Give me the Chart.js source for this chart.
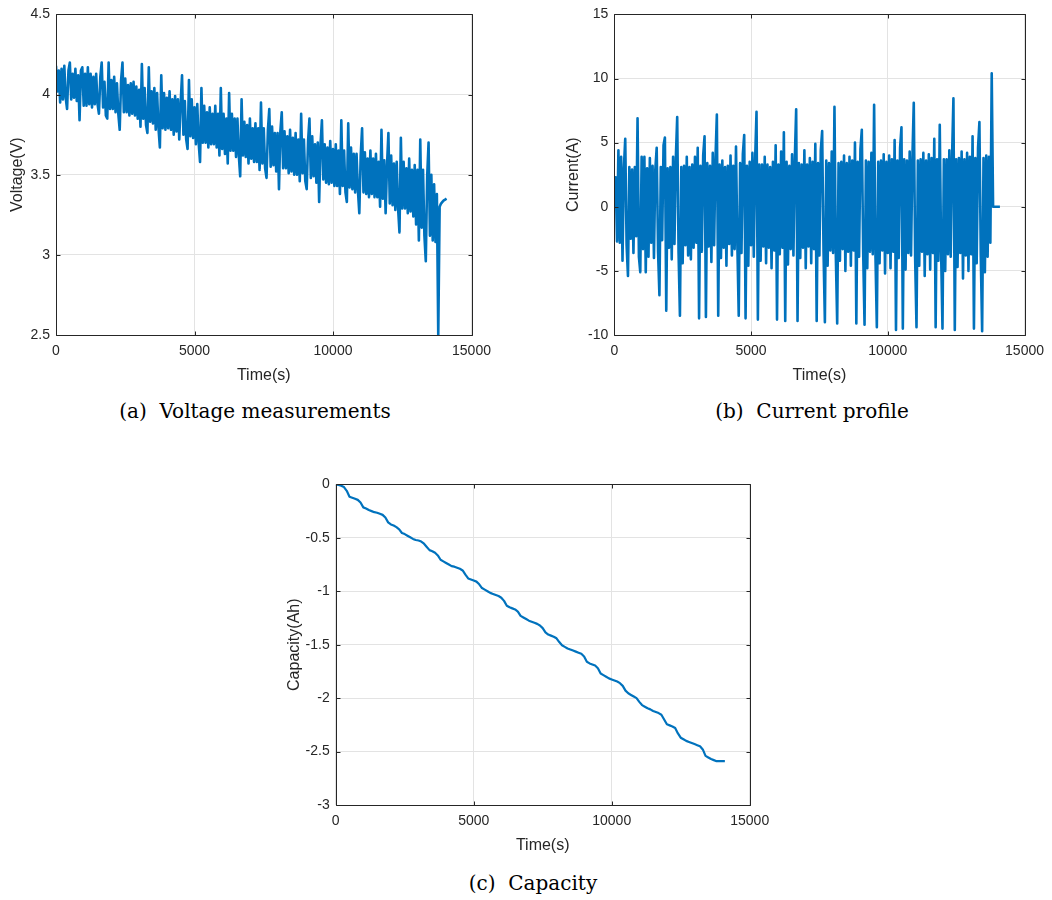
<!DOCTYPE html>
<html>
<head>
<meta charset="utf-8">
<script src="https://cdn.jsdelivr.net/npm/chart.js@4.4.1/dist/chart.umd.min.js"></script>
<style>
html,body{margin:0;padding:0;background:#fff;}
body{width:1052px;height:900px;position:relative;overflow:hidden;}
canvas{position:absolute;}
.cap{position:absolute;font-family:"DejaVu Serif",serif;font-size:20px;color:#000;white-space:pre;transform:translate(-50%,-50%);line-height:1;}
</style>
</head>
<body>
<canvas id="cv" width="500" height="395" style="left:0px;top:0px;width:500px;height:395px"></canvas>
<canvas id="ci" width="492" height="395" style="left:560px;top:0px;width:492px;height:395px"></canvas>
<canvas id="cc" width="500" height="395" style="left:280px;top:470px;width:500px;height:395px"></canvas>
<div class="cap" style="left:255px;top:411px">(a)  Voltage measurements</div>
<div class="cap" style="left:812px;top:411px">(b)  Current profile</div>
<div class="cap" style="left:533px;top:883px">(c)  Capacity</div>
<script>
// ---------------- DATA ----------------
// Voltage and current sampled every 50 s (t = 0 ... 14100 s)
const sampleIntervalS = 50;
const voltageValues = [
  4.18, 4.02, 4.15, 3.95, 4.16, 3.97, 4.18, 3.98, 3.91, 4.15,
  4.20, 3.97, 4.13, 3.98, 4.16, 3.96, 4.12, 3.84, 4.15, 4.17,
  3.93, 4.13, 3.93, 4.17, 3.94, 4.13, 3.92, 4.11, 3.94, 4.13,
  3.94, 3.88, 4.11, 4.20, 3.92, 4.08, 3.87, 3.85, 4.20, 3.91,
  4.09, 3.91, 4.11, 3.89, 4.07, 3.88, 3.78, 4.09, 4.20, 3.89,
  4.10, 3.89, 4.06, 3.87, 4.07, 3.88, 4.08, 3.87, 4.05, 3.85,
  4.03, 3.80, 4.19, 3.85, 4.04, 3.81, 3.76, 4.17, 3.83, 4.02,
  3.82, 4.04, 3.78, 4.01, 3.79, 3.67, 4.12, 3.79, 4.01, 3.78,
  3.98, 3.79, 4.02, 3.78, 3.97, 3.75, 3.99, 3.77, 3.97, 3.72,
  3.95, 4.12, 3.75, 3.96, 3.72, 3.66, 4.09, 3.74, 3.97, 3.73,
  3.92, 3.69, 3.94, 3.70, 3.58, 4.04, 3.70, 3.93, 3.70, 3.89,
  3.67, 3.92, 3.69, 3.88, 3.69, 3.93, 3.67, 3.88, 3.62, 4.04,
  3.66, 3.88, 3.63, 3.85, 3.57, 4.01, 3.65, 3.88, 3.65, 3.85,
  3.61, 3.85, 3.62, 3.49, 3.97, 3.62, 3.83, 3.61, 3.81, 3.57,
  3.85, 3.60, 3.79, 3.58, 3.82, 3.58, 3.79, 3.53, 3.95, 3.57,
  3.79, 3.54, 3.48, 3.78, 3.91, 3.55, 3.80, 3.56, 3.76, 3.52,
  3.76, 3.41, 3.77, 3.89, 3.54, 3.77, 3.54, 3.74, 3.51, 3.78,
  3.52, 3.73, 3.50, 3.76, 3.50, 3.72, 3.46, 3.88, 3.51, 3.72,
  3.46, 3.41, 3.71, 3.85, 3.48, 3.74, 3.49, 3.69, 3.45, 3.70,
  3.33, 3.69, 3.84, 3.47, 3.69, 3.45, 3.67, 3.44, 3.71, 3.45,
  3.66, 3.43, 3.69, 3.43, 3.65, 3.38, 3.84, 3.43, 3.65, 3.39,
  3.33, 3.82, 3.42, 3.67, 3.41, 3.63, 3.39, 3.63, 3.40, 3.26,
  3.62, 3.79, 3.39, 3.64, 3.38, 3.60, 3.36, 3.65, 3.38, 3.60,
  3.36, 3.63, 3.36, 3.58, 3.30, 3.78, 3.35, 3.59, 3.26, 3.56,
  3.76, 3.32, 3.62, 3.31, 3.57, 3.28, 3.58, 3.29, 3.14, 3.73,
  3.29, 3.58, 3.29, 3.54, 3.26, 3.60, 3.27, 3.53, 3.24, 3.56,
  3.19, 3.53, 3.09, 3.72, 3.17, 3.53, 3.12, 2.96, 3.49, 3.70,
  3.12, 3.50, 3.09, 3.44, 3.08, 3.38, 2.50, 3.30, 3.32, 3.33,
  3.34, 3.345, 3.35
];
const currentValues = [
  0, 2.3, -2.7, 4.4, -2.8, 3.9, -4.2, 3.0, 5.3, -3.0,
  -5.4, 3.1, -2.5, 2.9, -3.6, 3.1, -2.3, 6.9, -3.9, -5.1,
  3.9, -3.3, 3.9, -5.1, 3.0, -3.9, 3.8, -2.8, 3.2, -4.0,
  2.9, 4.6, -3.5, -6.9, 3.1, -2.6, 4.8, 5.4, -8.1, 3.0,
  -3.2, 3.1, -4.1, 3.9, -2.9, 3.8, 7.0, -3.6, -8.5, 3.1,
  -4.4, 3.2, -3.0, 3.9, -3.8, 3.1, -4.1, 3.3, -3.2, 3.9,
  -2.8, 4.6, -8.7, 3.2, -3.5, 4.0, 5.5, -8.6, 3.4, -3.1,
  3.2, -4.3, 4.2, -3.0, 3.8, 7.2, -8.5, 3.3, -4.0, 3.6,
  -3.2, 3.1, -4.6, 3.2, -2.9, 4.0, -3.8, 3.2, -3.3, 4.7,
  -3.0, -8.5, 3.4, -3.6, 4.1, 5.6, -8.7, 3.2, -4.6, 3.5,
  -3.0, 4.2, -3.9, 3.7, 7.4, -8.8, 3.3, -4.2, 3.3, -3.1,
  3.9, -4.4, 3.3, -3.2, 3.1, -4.8, 3.5, -3.4, 4.8, -8.8,
  3.3, -3.7, 4.3, -3.2, 5.8, -8.9, 3.5, -4.5, 3.2, -3.3,
  4.1, -3.8, 3.7, 7.6, -8.9, 3.4, -4.0, 3.3, -3.2, 4.4,
  -4.8, 3.3, -3.1, 3.8, -4.4, 3.5, -3.3, 4.9, -8.9, 3.4,
  -3.8, 4.4, 5.9, -3.4, -9.0, 3.6, -4.6, 3.4, -3.4, 4.3,
  -3.6, 7.8, -3.8, -9.1, 3.4, -4.2, 3.5, -3.3, 4.0, -5.0,
  3.4, -3.5, 3.9, -4.6, 3.6, -3.4, 5.0, -9.1, 3.5, -3.9,
  4.5, 6.0, -3.5, -9.2, 3.6, -4.8, 3.5, -3.5, 4.2, -3.7,
  7.95, -3.9, -9.4, 3.5, -4.4, 3.6, -3.4, 4.1, -5.2, 3.5,
  -3.6, 4.0, -4.8, 3.7, -3.5, 5.2, -9.6, 3.6, -4.0, 4.6,
  6.2, -9.5, 3.7, -4.9, 3.6, -3.6, 4.3, -3.8, 3.8, 8.1,
  -4.0, -9.4, 3.6, -4.6, 3.7, -3.5, 4.2, -5.4, 3.6, -3.7,
  4.1, -4.9, 3.8, -3.6, 5.3, -9.4, 3.7, -4.2, 6.4, -3.6,
  -9.5, 3.7, -5.0, 3.7, -3.7, 4.4, -3.9, 3.9, 8.45, -9.6,
  3.7, -4.7, 3.8, -3.6, 4.3, -5.6, 3.7, -3.8, 4.2, -5.0,
  3.9, -3.7, 5.5, -9.5, 3.8, -4.4, 4.6, 6.6, -3.8, -9.7,
  3.8, -5.1, 4.0, -3.9, 3.9, -2.8, 10.4, 0, 0, 0,
  0, 0, 0
];
// Capacity sampled every 100 s (t = 0 ... 14100 s)
const capacityIntervalS = 100;
const capacityValues = [
  0, -0.005, -0.012, -0.025, -0.06, -0.115, -0.125, -0.135, -0.145, -0.17,
  -0.215, -0.225, -0.24, -0.25, -0.26, -0.265, -0.275, -0.285, -0.31, -0.355,
  -0.375, -0.385, -0.40, -0.42, -0.455, -0.465, -0.48, -0.495, -0.51, -0.52,
  -0.525, -0.535, -0.555, -0.585, -0.615, -0.625, -0.64, -0.665, -0.705, -0.72,
  -0.735, -0.75, -0.765, -0.77, -0.78, -0.79, -0.805, -0.845, -0.88, -0.89,
  -0.90, -0.91, -0.935, -0.97, -0.985, -1.0, -1.015, -1.025, -1.035, -1.045,
  -1.06, -1.09, -1.135, -1.15, -1.16, -1.17, -1.19, -1.23, -1.245, -1.26,
  -1.275, -1.285, -1.295, -1.305, -1.32, -1.345, -1.385, -1.405, -1.415, -1.425,
  -1.44, -1.475, -1.505, -1.52, -1.535, -1.545, -1.555, -1.565, -1.575, -1.585,
  -1.61, -1.66, -1.675, -1.685, -1.695, -1.72, -1.77, -1.785, -1.80, -1.815,
  -1.825, -1.835, -1.845, -1.86, -1.885, -1.93, -1.955, -1.97, -1.985, -2.0,
  -2.035, -2.065, -2.08, -2.095, -2.105, -2.12, -2.13, -2.14, -2.155, -2.20,
  -2.245, -2.255, -2.265, -2.28, -2.33, -2.37, -2.385, -2.40, -2.41, -2.42,
  -2.43, -2.44, -2.45, -2.48, -2.54, -2.555, -2.57, -2.58, -2.59, -2.59,
  -2.59, -2.59
];
// Axis ranges / ticks
const timeTicks = [0, 5000, 10000, 15000];
const voltageTicks = [2.5, 3, 3.5, 4, 4.5];
const currentTicks = [-10, -5, 0, 5, 10, 15];
const capacityTicks = [-3, -2.5, -2, -1.5, -1, -0.5, 0];

// ---------------- STYLE ----------------
const LINE_COLOR = '#0072BD';
const AXIS_COLOR = '#262626';
const GRID_COLOR = '#e3e3e3';
const TICK_FONT = {family: '"Liberation Sans", Arial, sans-serif', size: 14};
const TITLE_FONT = {family: '"Liberation Sans", Arial, sans-serif', size: 16};

const boxPlugin = {
  id: 'matlabBox',
  afterDatasetsDraw(chart) {
    const {ctx, chartArea} = chart;
    const l = Math.round(chartArea.left) + 0.5, r = Math.round(chartArea.right) + 0.5;
    const t = Math.round(chartArea.top) + 0.5, b = Math.round(chartArea.bottom) + 0.5;
    const xs = chart.scales.x, ys = chart.scales.y;
    ctx.save();
    ctx.strokeStyle = AXIS_COLOR;
    ctx.lineWidth = 1;
    ctx.beginPath();
    ctx.rect(l, t, r - l, b - t);
    xs.ticks.forEach(tk => {
      const px = Math.round(xs.getPixelForValue(tk.value)) + 0.5;
      ctx.moveTo(px, b); ctx.lineTo(px, b - 4);
      ctx.moveTo(px, t); ctx.lineTo(px, t + 4);
    });
    ys.ticks.forEach(tk => {
      const py = Math.round(ys.getPixelForValue(tk.value)) + 0.5;
      ctx.moveTo(l, py); ctx.lineTo(l + 4, py);
      ctx.moveTo(r, py); ctx.lineTo(r - 4, py);
    });
    ctx.stroke();
    ctx.restore();
  }
};

function toPoints(values, step) {
  return values.map((v, i) => ({x: i * step, y: v}));
}

function makeChart(id, values, step, yTicks, yTitle, geom) {
  const yMin = yTicks[0], yMax = yTicks[yTicks.length - 1];
  const yStep = yTicks[1] - yTicks[0];
  return new Chart(document.getElementById(id), {
    type: 'line',
    data: {
      datasets: [{
        data: toPoints(values, step),
        borderColor: LINE_COLOR,
        borderWidth: geom.lineWidth,
        borderJoinStyle: 'round',
        pointRadius: 0,
        tension: 0,
        fill: false
      }]
    },
    options: {
      responsive: false,
      animation: false,
      devicePixelRatio: 1,
      layout: {padding: {left: 0, top: 13, right: geom.rightPad, bottom: 0}},
      plugins: {legend: {display: false}, tooltip: {enabled: false}},
      scales: {
        x: {
          type: 'linear',
          min: timeTicks[0],
          max: timeTicks[timeTicks.length - 1],
          afterBuildTicks: s => { s.ticks = timeTicks.map(v => ({value: v})); },
          afterFit: s => { s.height = 60; },
          ticks: {font: TICK_FONT, color: AXIS_COLOR, padding: 8, maxRotation: 0,
                  callback: v => String(v)},
          grid: {color: GRID_COLOR, lineWidth: 1, drawTicks: false},
          border: {display: false},
          title: {display: true, text: 'Time(s)', font: TITLE_FONT, color: AXIS_COLOR,
                  padding: {top: 0, bottom: 10}}
        },
        y: {
          type: 'linear',
          min: yMin,
          max: yMax,
          afterBuildTicks: s => { s.ticks = yTicks.map(v => ({value: v})); },
          afterFit: s => { s.width = geom.yWidth; },
          ticks: {font: TICK_FONT, color: AXIS_COLOR, padding: 6, stepSize: yStep,
                  callback: v => String(v)},
          grid: {color: GRID_COLOR, lineWidth: 1, drawTicks: false},
          border: {display: false},
          title: {display: true, text: yTitle, font: TITLE_FONT, color: AXIS_COLOR,
                  padding: {top: geom.titlePad, bottom: 0}}
        }
      }
    },
    plugins: [boxPlugin]
  });
}

makeChart('cv', voltageValues, sampleIntervalS, voltageTicks, 'Voltage(V)',
  {yWidth: 56, rightPad: 28.5, titlePad: 7.7, lineWidth: 2.6});
makeChart('ci', currentValues, sampleIntervalS, currentTicks, 'Current(A)',
  {yWidth: 54.3, rightPad: 24, titlePad: 3.9, lineWidth: 2.6});
makeChart('cc', capacityValues, capacityIntervalS, capacityTicks, 'Capacity(Ah)',
  {yWidth: 55.7, rightPad: 30.3, titlePad: 5.4, lineWidth: 2.2});
</script>
</body>
</html>
